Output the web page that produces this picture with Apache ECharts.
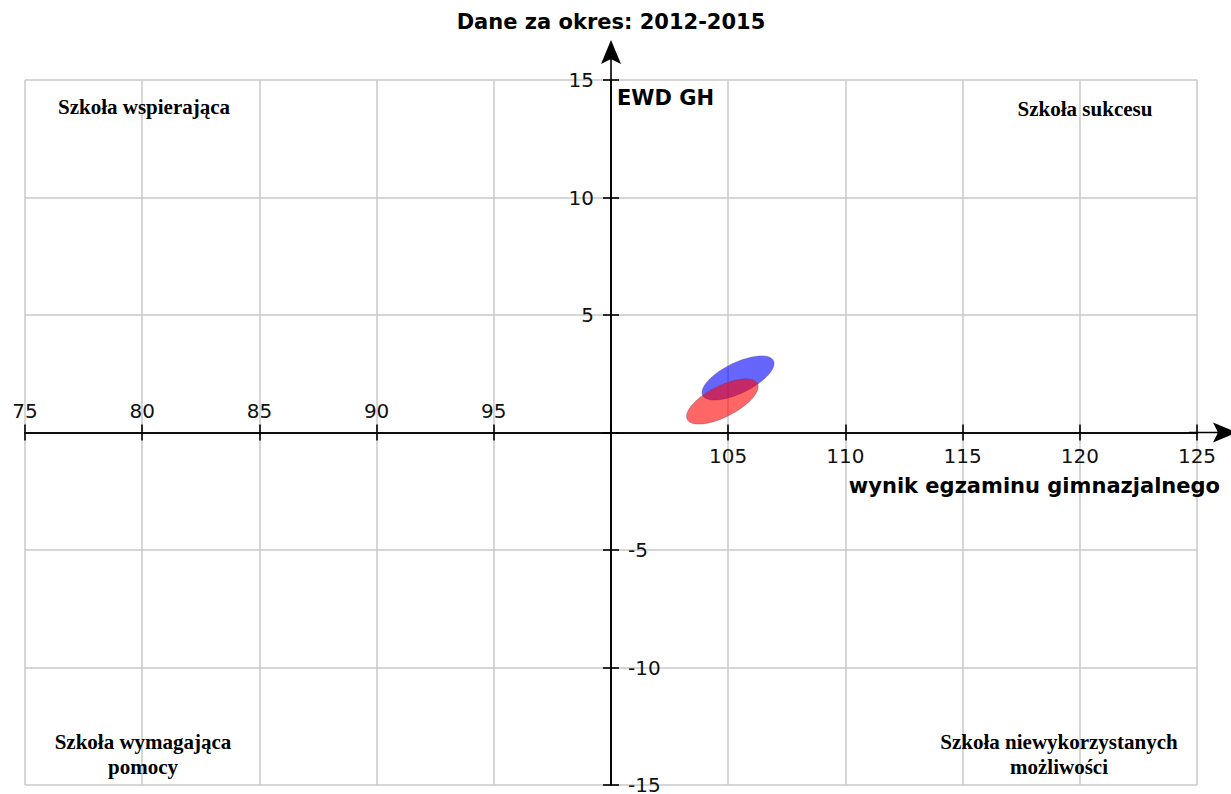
<!DOCTYPE html>
<html><head><meta charset="utf-8">
<script src="https://cdn.jsdelivr.net/npm/echarts@6/dist/echarts.min.js"></script>
<style>html,body{margin:0;padding:0;background:#fff}#c{width:1231px;height:794px}</style>
</head><body><div id="c"></div>
<script>
// ---- data ----
const chartTitle = 'Dane za okres: 2012-2015';
const xAxisName = 'wynik egzaminu gimnazjalnego';
const yAxisName = 'EWD GH';
const xMin = 75, xMax = 125, xStep = 5;
const yMin = -15, yMax = 15, yStep = 5;
const xLabelsAbove = [75, 80, 85, 90, 95];
const xLabelsBelow = [105, 110, 115, 120, 125];
const yLabelsLeft = [5, 10, 15];
const yLabelsRight = [-5, -10, -15];
const quadrantLabels = ['Szkoła wspierająca', 'Szkoła sukcesu', 'Szkoła wymagająca\npomocy', 'Szkoła niewykorzystanych\nmożliwości'];
// ellipses (blue drawn first, red on top)
const ellipseColors = ['rgba(0,0,255,0.6)', 'rgba(255,0,0,0.6)'];
const centerX = [105.42, 104.75];
const centerY = [2.32, 1.32];
const semiMajor = [1.68, 1.68];
const semiMinor = [0.65, 0.66];
const tiltDeg = [26, 27];

// ---- styles ----
const gridColor = '#c8c8c8';
const arrowPath = 'path://M10 0 L20 24 L10 19 L0 24 Z M9.2 19 L10.8 19 L10.8 48 L9.2 48 Z';
const labelFont = {fontFamily: 'DejaVu Sans', fontSize: 20, color: '#111'};
const gridTop = 80, gridBottom = 9, gridLeft = 25, gridRight = 34;
const chartW = 1231, chartH = 794;
// offsets moving the axes from the grid edges to the crossing point (x = 100, y = 0)
const plotW = chartW - gridLeft - gridRight, plotH = chartH - gridTop - gridBottom;
const yAxisShift = -plotW * (100 - xMin) / (xMax - xMin);
const xAxisShift = -plotH * (0 - yMin) / (yMax - yMin);

function showIf(list) { return v => list.includes(v) ? String(v) : ''; }

function ellipseSeries(i) {
  return {
    type: 'custom', xAxisIndex: 0, yAxisIndex: 0, z: 5 + i,
    data: [[centerX[i], centerY[i], semiMajor[i], semiMinor[i], tiltDeg[i]]],
    encode: {x: 0, y: 1},
    renderItem: function (params, api) {
      const cx = api.value(0), cy = api.value(1), a = api.value(2), b = api.value(3);
      const t = api.value(4) * Math.PI / 180;
      const pts = [];
      for (let k = 0; k < 120; k++) {
        const th = k / 120 * 2 * Math.PI;
        const dx = a * Math.cos(th), dy = b * Math.sin(th);
        pts.push(api.coord([cx + dx * Math.cos(t) - dy * Math.sin(t), cy + dx * Math.sin(t) + dy * Math.cos(t)]));
      }
      return {type: 'polygon', shape: {points: pts},
        style: {fill: ellipseColors[i], stroke: 'rgba(90,60,90,0.35)', lineWidth: 1}};
    }
  };
}

const chart = echarts.init(document.getElementById('c'), null, {renderer: 'svg'});
const axisLineStyle = {color: '#000', width: 1.6};
chart.setOption({
  animation: false,
  backgroundColor: '#fff',
  grid: {left: gridLeft, right: gridRight, top: gridTop, bottom: gridBottom, outerBoundsMode: 'none', containLabel: false},
  xAxis: [{
    type: 'value', min: xMin, max: xMax, interval: xStep, position: 'bottom', offset: xAxisShift,
    axisLine: {show: true, onZero: false, lineStyle: axisLineStyle,
      symbol: ['none', arrowPath], symbolSize: [20, 48], symbolOffset: [0, 16]},
    axisTick: {show: true, length: 8, lineStyle: axisLineStyle},
    axisLabel: Object.assign({formatter: showIf(xLabelsBelow), margin: 13}, labelFont),
    splitLine: {show: true, lineStyle: {color: gridColor, width: 1.5}}
  }, {
    type: 'value', min: xMin, max: xMax, interval: xStep, position: 'top', offset: xAxisShift,
    axisLine: {show: true, onZero: false, lineStyle: axisLineStyle},
    axisTick: {show: true, length: 8, lineStyle: axisLineStyle},
    axisLabel: Object.assign({formatter: showIf(xLabelsAbove), margin: 12}, labelFont),
    splitLine: {show: false}
  }],
  yAxis: [{
    type: 'value', min: yMin, max: yMax, interval: yStep, position: 'left', offset: yAxisShift,
    axisLine: {show: true, onZero: false, lineStyle: axisLineStyle,
      symbol: ['none', arrowPath], symbolSize: [20, 48], symbolOffset: [0, 16]},
    axisTick: {show: true, length: 8, lineStyle: axisLineStyle},
    axisLabel: Object.assign({formatter: showIf(yLabelsLeft), margin: 17}, labelFont),
    splitLine: {show: true, lineStyle: {color: gridColor, width: 1.5}}
  }, {
    type: 'value', min: yMin, max: yMax, interval: yStep, position: 'right', offset: yAxisShift,
    axisLine: {show: true, onZero: false, lineStyle: axisLineStyle},
    axisTick: {show: true, length: 8, lineStyle: axisLineStyle},
    axisLabel: Object.assign({formatter: showIf(yLabelsRight), margin: 17}, labelFont),
    splitLine: {show: false}
  }],
  graphic: [
    {type: 'text', x: 611, y: 22, z: 100, style: {text: chartTitle, font: 'bold 21px "DejaVu Sans"', fill: '#000', align: 'center', verticalAlign: 'middle'}},
    {type: 'text', x: 617, y: 98, z: 100, style: {text: yAxisName, font: 'bold 21px "DejaVu Sans"', fill: '#000', align: 'left', verticalAlign: 'middle'}},
    {type: 'text', x: 1220, y: 486, z: 100, style: {text: xAxisName, font: 'bold 21px "DejaVu Sans"', fill: '#000', align: 'right', verticalAlign: 'middle'}},
    {type: 'text', x: 144, y: 107, z: 100, style: {text: quadrantLabels[0], font: 'bold 21px "Liberation Serif"', fill: '#000', align: 'center', verticalAlign: 'middle'}},
    {type: 'text', x: 1085, y: 109, z: 100, style: {text: quadrantLabels[1], font: 'bold 21px "Liberation Serif"', fill: '#000', align: 'center', verticalAlign: 'middle'}},
    {type: 'text', x: 143, y: 754, z: 100, style: {text: quadrantLabels[2], font: 'bold 21px "Liberation Serif"', lineHeight: 25, fill: '#000', align: 'center', verticalAlign: 'middle'}},
    {type: 'text', x: 1059, y: 754, z: 100, style: {text: quadrantLabels[3], font: 'bold 21px "Liberation Serif"', lineHeight: 25, fill: '#000', align: 'center', verticalAlign: 'middle'}}
  ],
  series: [ellipseSeries(0), ellipseSeries(1)]
});
</script></body></html>
